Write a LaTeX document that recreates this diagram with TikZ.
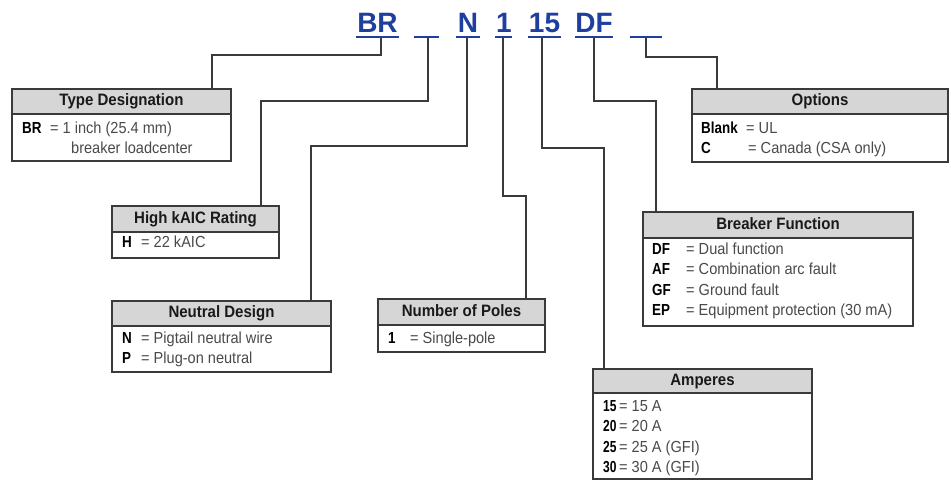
\documentclass[tikz,border=0pt]{standalone}
\usepackage{fontspec}
\setmainfont{Liberation Sans}
\newfontfamily\condfont{Liberation Sans}[FakeStretch=0.91]
\newfontfamily\codefont{Liberation Sans}[FakeStretch=0.84]
\newfontfamily\digfont{Liberation Sans}[FakeStretch=0.75]
\definecolor{bd}{HTML}{3A3A3A}
\definecolor{hd}{HTML}{D6D6D6}
\definecolor{tx}{HTML}{4A4A4A}
\definecolor{blu}{HTML}{1F3F9E}
\newcommand\myhfont{\condfont\fontsize{16.5}{19}\selectfont\bfseries}
\newcommand\mybfont{\codefont\fontsize{16}{19}\selectfont\bfseries}
\newcommand\mydigfont{\digfont\fontsize{16}{19}\selectfont\bfseries}
\newcommand\mydfont{\condfont\fontsize{16}{19}\selectfont}
\newcommand\mytfont{\fontsize{28}{32}\selectfont\bfseries}
\tikzset{
  framebox/.style={draw=bd, fill=white, line width=1.3pt, inner sep=0pt, outer sep=0pt, anchor=north west},
  hdrbox/.style={draw=bd, fill=hd, line width=1.3pt, inner sep=0pt, outer sep=0pt, anchor=north west,
                 text height=11.5pt, text depth=3pt, font=\myhfont, text=black!90},
  codetxt/.style={anchor=base west, inner sep=0pt, font=\mybfont, text=black},
  digtxt/.style={anchor=base west, inner sep=0pt, font=\mydigfont, text=black},
  desctxt/.style={anchor=base west, inner sep=0pt, font=\mydfont, text=tx},
  toplbl/.style={anchor=base, inner sep=0pt, font=\mytfont, text=blu},
  ulline/.style={draw=blu, line width=2pt},
  connline/.style={draw=bd, line width=1.2pt},
}
\begin{document}
\begin{tikzpicture}[x=1pt,y=-1pt]
\useasboundingbox (0,0) rectangle (951,481);

% ---- top code labels ----
\node[toplbl] (lbr) at (377.5,33) {BR};
\node[toplbl] (ln) at (468,33) {N};
\node[toplbl] (l1) at (504,33) {1};
\node[toplbl] (l15) at (544.5,33) {15};
\node[toplbl] (ldf) at (594,33) {DF};
\draw[ulline] (356,37) -- (399,37);
\draw[ulline] (414,37) -- (439,37);
\draw[ulline] (456,37) -- (480,37);
\draw[ulline] (495,37) -- (512,37);
\draw[ulline] (528,37) -- (561,37);
\draw[ulline] (575,37) -- (613,37);
\draw[ulline] (630,37) -- (662,37);

% connector start points
\coordinate (sbr) at (381,38);
\coordinate (sbl) at (428,38);
\coordinate (sn)  at (467,38);
\coordinate (s1)  at (503,38);
\coordinate (s15) at (542,38);
\coordinate (sdf) at (594,38);
\coordinate (sop) at (646,38);
% connector end points (box tops)
\coordinate (tdT) at (212,89);
\coordinate (kaT) at (261,206);
\coordinate (ndT) at (311,301);
\coordinate (npT) at (526,299);
\coordinate (opT) at (717,89);
\coordinate (bfT) at (656,212);
\coordinate (amT) at (604,369);

\draw[connline] (sbr) -- ++(0,17) -| (tdT);
\draw[connline] (sbl) -- ++(0,63) -| (kaT);
\draw[connline] (sn)  -- ++(0,108) -| (ndT);
\draw[connline] (s1)  -- ++(0,158) -| (npT);
\draw[connline] (s15) -- ++(0,110) -| (amT);
\draw[connline] (sdf) -- ++(0,63) -| (bfT);
\draw[connline] (sop) -- ++(0,19) -| (opT);

% ---- Type Designation ----
\node[framebox, minimum width=219pt, minimum height=72pt] (td) at (12,89) {};
\node[hdrbox, minimum width=219pt, minimum height=25pt] (tdh) at (12,89) {Type Designation};
\node[codetxt] (td1c) at (22,133.5) {BR};
\node[desctxt] (td1d) at (50,133.5) {= 1 inch (25.4 mm)};
\node[desctxt] (td2d) at (71,153.5) {breaker loadcenter};

% ---- High kAIC Rating ----
\node[framebox, minimum width=167pt, minimum height=52pt] (ka) at (112,206) {};
\node[hdrbox, minimum width=167pt, minimum height=26pt] (kah) at (112,206) {High kAIC Rating};
\node[codetxt] (ka1c) at (122,248) {H};
\node[desctxt] (ka1d) at (141,248) {= 22 kAIC};

% ---- Neutral Design ----
\node[framebox, minimum width=219pt, minimum height=71pt] (nd) at (112,301) {};
\node[hdrbox, minimum width=219pt, minimum height=25pt] (ndh) at (112,301) {Neutral Design};
\node[codetxt] (nd1c) at (122,343) {N};
\node[desctxt] (nd1d) at (141,343) {= Pigtail neutral wire};
\node[codetxt] (nd2c) at (122,363) {P};
\node[desctxt] (nd2d) at (141,363) {= Plug-on neutral};

% ---- Number of Poles ----
\node[framebox, minimum width=167pt, minimum height=53pt] (np) at (378,299) {};
\node[hdrbox, minimum width=167pt, minimum height=26pt] (nph) at (378,299) {Number of Poles};
\node[codetxt] (np1c) at (388,343) {1};
\node[desctxt] (np1d) at (410,343) {= Single-pole};

% ---- Options ----
\node[framebox, minimum width=256pt, minimum height=73pt] (op) at (692,89) {};
\node[hdrbox, minimum width=256pt, minimum height=25pt] (oph) at (692,89) {Options};
\node[codetxt] (op1c) at (701,133.5) {Blank};
\node[desctxt] (op1d) at (746,133.5) {= UL};
\node[codetxt] (op2c) at (701,153.5) {C};
\node[desctxt] (op2d) at (748,153.5) {= Canada (CSA only)};

% ---- Breaker Function ----
\node[framebox, minimum width=270pt, minimum height=114pt] (bf) at (643,212) {};
\node[hdrbox, minimum width=270pt, minimum height=26pt] (bfh) at (643,212) {Breaker Function};
\node[codetxt] (bf1c) at (652,254.5) {DF};
\node[desctxt] (bf1d) at (686,254.5) {= Dual function};
\node[codetxt] (bf2c) at (652,275) {AF};
\node[desctxt] (bf2d) at (686,275) {= Combination arc fault};
\node[codetxt] (bf3c) at (652,295.5) {GF};
\node[desctxt] (bf3d) at (686,295.5) {= Ground fault};
\node[codetxt] (bf4c) at (652,316) {EP};
\node[desctxt] (bf4d) at (686,316) {= Equipment protection (30 mA)};

% ---- Amperes ----
\node[framebox, minimum width=219pt, minimum height=110pt] (am) at (593,369) {};
\node[hdrbox, minimum width=219pt, minimum height=24pt] (amh) at (593,369) {Amperes};
\node[digtxt] (am1c) at (603,411) {15};
\node[desctxt] (am1d) at (619,411) {= 15 A};
\node[digtxt] (am2c) at (603,431.5) {20};
\node[desctxt] (am2d) at (619,431.5) {= 20 A};
\node[digtxt] (am3c) at (603,452) {25};
\node[desctxt] (am3d) at (619,452) {= 25 A (GFI)};
\node[digtxt] (am4c) at (603,472.5) {30};
\node[desctxt] (am4d) at (619,472.5) {= 30 A (GFI)};
\end{tikzpicture}
\end{document}
